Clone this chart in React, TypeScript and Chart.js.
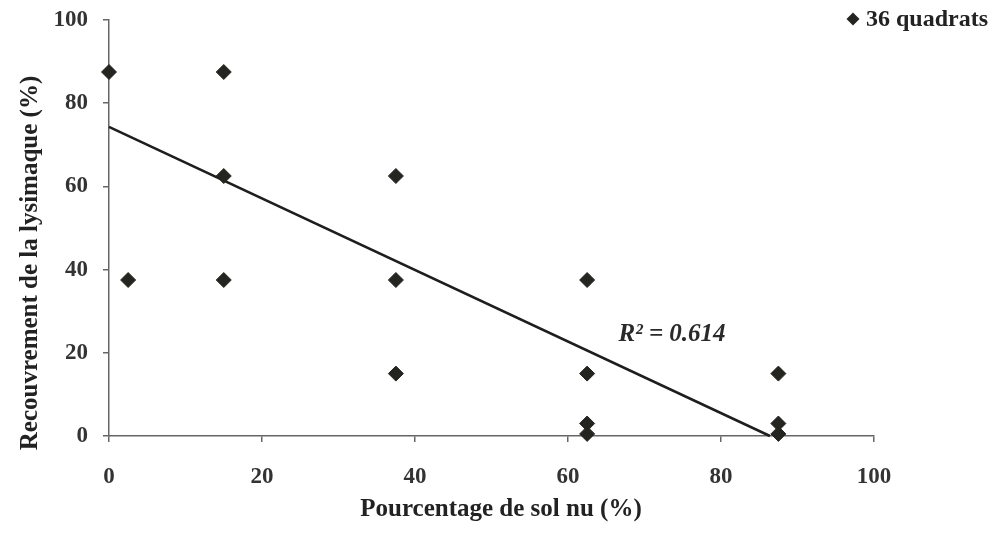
import { useEffect, useRef } from 'react';
import { Chart, registerables } from 'chart.js';

Chart.register(...registerables);

// Data (quadrat cover classes; overlapping quadrats share a point)
const soilBare = [0, 2.5, 15, 15, 15, 37.5, 37.5, 37.5, 62.5, 62.5, 62.5, 62.5, 87.5, 87.5, 87.5];
const lysimachiaCover = [87.5, 37.5, 87.5, 62.5, 37.5, 62.5, 37.5, 15, 37.5, 15, 3, 0.5, 15, 3, 0.5];
const trendX = [0, 86.4];
const trendY = [74.3, 0];
const xTickValues = [0, 20, 40, 60, 80, 100];
const yTickValues = [0, 20, 40, 60, 80, 100];
const legendLabel = '36 quadrats';
const r2Label = 'R² = 0.614';
const r2Pos = [73.6, 24.3];
const xTitle = 'Pourcentage de sol nu (%)';
const yTitle = 'Recouvrement de la lysimaque (%)';

const SERIF = "'Liberation Serif', 'Times New Roman', serif";
const INK = '#242420';

const overlayPlugin = {
  id: 'overlay',
  afterDraw(chart: any) {
    const { ctx, scales } = chart;
    const xs = scales.x;
    const ys = scales.y;
    ctx.save();
    // R² annotation
    ctx.fillStyle = '#2a2a2a';
    ctx.font = `italic bold 25px ${SERIF}`;
    ctx.textAlign = 'center';
    ctx.textBaseline = 'middle';
    ctx.fillText(r2Label, xs.getPixelForValue(r2Pos[0]), ys.getPixelForValue(r2Pos[1]));

    // Legend
    const lx = 853;
    const ly = 19;
    ctx.fillStyle = INK;
    ctx.beginPath();
    ctx.moveTo(lx, ly - 6.5);
    ctx.lineTo(lx + 6.5, ly);
    ctx.lineTo(lx, ly + 6.5);
    ctx.lineTo(lx - 6.5, ly);
    ctx.closePath();
    ctx.fill();
    ctx.font = `bold 24px ${SERIF}`;
    ctx.textAlign = 'left';
    ctx.textBaseline = 'middle';
    ctx.fillStyle = '#222';
    ctx.fillText(legendLabel, 866, 20);

    // Axis titles
    ctx.font = `bold 25px ${SERIF}`;
    ctx.textAlign = 'center';
    ctx.textBaseline = 'alphabetic';
    ctx.fillText(xTitle, 501, 516);

    ctx.translate(37, 263);
    ctx.rotate(-Math.PI / 2);
    ctx.font = `bold 25px ${SERIF}`;
    ctx.fillText(yTitle, 0, 0);
    ctx.restore();
  },
};

export default function App() {
  const ref = useRef<HTMLCanvasElement | null>(null);

  useEffect(() => {
    const canvas = ref.current;
    if (!canvas) return;
    const points = soilBare.map((x, i) => ({ x, y: lysimachiaCover[i] }));
    const trend = trendX.map((x, i) => ({ x, y: trendY[i] }));
    const tickFont = { family: SERIF, size: 23, weight: 'bold' as const };

    const chart = new Chart(canvas, {
      type: 'scatter',
      data: {
        datasets: [
          {
            label: legendLabel,
            data: points,
            pointStyle: 'rectRot',
            pointRadius: 7.5,
            pointHoverRadius: 7.5,
            backgroundColor: INK,
            borderColor: INK,
            borderWidth: 1,
            clip: false,
            order: 1,
          },
          {
            label: 'trend',
            type: 'line',
            data: trend,
            borderColor: '#1e1e1e',
            borderWidth: 2.5,
            pointRadius: 0,
            fill: false,
            clip: false,
            order: 2,
          } as any,
        ],
      },
      options: {
        responsive: false,
        animation: false,
        events: [],
        layout: { padding: { left: 0, right: 122, top: 20, bottom: 0 } },
        plugins: {
          legend: { display: false },
          tooltip: { enabled: false },
        },
        scales: {
          x: {
            type: 'linear',
            min: 0,
            max: 100,
            afterBuildTicks: (s: any) => {
              s.ticks = xTickValues.map((v) => ({ value: v }));
            },
            afterFit: (s: any) => {
              s.height = 98;
              s.paddingLeft = 0;
              s.paddingRight = 0;
            },
            ticks: {
              font: tickFont,
              color: '#333',
              padding: 21,
              maxRotation: 0,
            },
            grid: {
              drawOnChartArea: false,
              drawTicks: true,
              tickLength: 6,
              color: '#666',
              lineWidth: 1.5,
            },
            border: { display: true, color: '#666', width: 1.5 },
          },
          y: {
            type: 'linear',
            min: 0,
            max: 100,
            afterBuildTicks: (s: any) => {
              s.ticks = yTickValues.map((v) => ({ value: v }));
            },
            afterFit: (s: any) => {
              s.width = 109;
              s.paddingTop = 0;
              s.paddingBottom = 0;
            },
            ticks: {
              font: tickFont,
              color: '#333',
              padding: 15,
            },
            grid: {
              drawOnChartArea: false,
              drawTicks: true,
              tickLength: 6,
              color: '#666',
              lineWidth: 1.5,
            },
            border: { display: true, color: '#666', width: 1.5 },
          },
        },
      },
      plugins: [overlayPlugin],
    });
    return () => chart.destroy();
  }, []);

  return (
    <div style={{ position: 'fixed', left: 0, top: 0, width: 996, height: 534, background: '#fff' }}>
      <canvas ref={ref} width={996} height={534} style={{ display: 'block', width: 996, height: 534 }} />
    </div>
  );
}
